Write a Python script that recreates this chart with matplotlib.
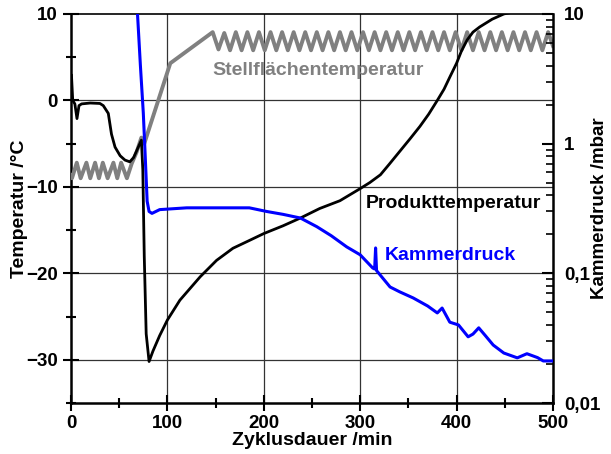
import numpy as np
import matplotlib
matplotlib.use("Agg")
import matplotlib.pyplot as plt
from matplotlib.ticker import MultipleLocator, FixedLocator, FixedFormatter, LogLocator, NullFormatter

plt.rcParams['font.family'] = ['Liberation Sans', 'DejaVu Sans']
plt.rcParams['font.weight'] = 'bold'
plt.rcParams['font.size'] = 13

# Stellflächentemperatur (grau)
shelf_t = [0, 1, 6, 10, 16, 20, 25, 29, 33, 38, 44, 48, 52, 58, 63, 68, 73, 76, 103,
           147, 153, 159, 165, 171, 177, 183, 189, 195, 201, 207, 213, 219, 225, 231,
           237, 243, 249, 255, 261, 267, 273, 279, 285, 291, 297, 303, 309, 315, 321,
           327, 333, 339, 345, 351, 357, 363, 369, 375, 381, 387, 393, 399, 405, 411,
           417, 423, 429, 435, 441, 447, 453, 459, 465, 471, 477, 483, 489, 495, 500]
shelf_T = [-8.7, -9.0, -7.2, -9.0, -7.2, -9.0, -7.2, -9.0, -7.2, -9.0, -7.2, -9.0, -7.2, -9.0,
           -7.3, -6.0, -4.3, -5.0, 4.3,
           7.9, 5.9, 7.8, 5.8, 7.9, 5.8, 7.9, 5.8, 7.9, 5.8, 7.9, 5.8, 7.9, 5.8, 7.9,
           5.8, 7.9, 5.8, 7.9, 5.8, 7.9, 5.8, 7.9, 5.8, 7.9, 5.8, 7.9, 5.8, 7.9, 5.8,
           7.9, 5.8, 7.9, 5.8, 7.9, 5.8, 7.9, 5.8, 7.9, 5.8, 7.9, 5.8, 7.9, 5.8, 7.9,
           5.8, 7.9, 5.8, 7.9, 5.8, 7.9, 5.8, 7.9, 5.8, 7.9, 5.8, 7.9, 5.8, 7.9, 6.3]

# Produkttemperatur (schwarz)
prod_t = [0.5, 1.8, 4, 6.2, 8.3, 11, 20, 30, 33.5, 38.7, 42, 45.7, 51, 56, 61, 65, 69, 73,
          74.5, 76, 78, 81, 85, 92, 100, 113, 134, 151, 168, 185, 200, 220, 238, 258,
          279, 300, 310, 321, 330, 341, 352, 362, 371, 380, 387, 393, 400, 405, 411,
          417, 424, 437, 449, 470, 500]
prod_T = [2.9, 0.0, -0.4, -2.1, -0.6, -0.4, -0.3, -0.35, -0.6, -1.5, -3.9, -5.4, -6.4, -6.9,
          -7.1, -6.6, -5.6, -4.6, -8.0, -18.0, -27.0, -30.2, -29.0, -27.2, -25.4, -23.1,
          -20.4, -18.5, -17.1, -16.2, -15.4, -14.5, -13.6, -12.5, -11.6, -10.2, -9.5,
          -8.6, -7.4, -5.9, -4.4, -3.0, -1.6, 0.0, 1.3, 2.7, 4.3, 5.7, 7.0, 7.9, 8.5,
          9.4, 10.0, 10.5, 11.0]

# Kammerdruck /mbar (blau)
press_t = [66, 69, 72, 75, 77, 79, 81, 84, 92, 120, 155, 185, 203, 220, 238, 255, 270,
           286, 300, 313, 315, 316, 317, 331, 341, 355, 370, 380, 385, 393, 402, 412,
           417, 423, 430, 438, 449, 463, 473, 484, 490, 500]
press_p = [15, 10, 4.0, 1.73, 0.8, 0.36, 0.30, 0.29, 0.31, 0.32, 0.32, 0.32, 0.30, 0.285,
           0.267, 0.229, 0.195, 0.16, 0.139, 0.11, 0.108, 0.157, 0.105, 0.0785, 0.072,
           0.0646, 0.056, 0.0495, 0.054, 0.042, 0.040, 0.0324, 0.034, 0.038, 0.033,
           0.028, 0.0243, 0.0223, 0.024, 0.0224, 0.0211, 0.0211]

x_ticks = [0, 100, 200, 300, 400, 500]
t_ticks = [-30, -20, -10, 0, 10]
p_ticks = [0.01, 0.1, 1, 10]
p_labels = ['0,01', '0,1', '1', '10']

fig = plt.figure(figsize=(6.11, 4.54), dpi=100)
ax = fig.add_axes([0.1162, 0.1123, 0.7888, 0.8569])

# Gitter
for xv in x_ticks[1:-1]:
    ax.axvline(xv, color='#333333', lw=0.9, zorder=1)
for yv in t_ticks[:-1]:
    ax.axhline(yv, color='#333333', lw=0.9, zorder=1)

ax.plot(shelf_t, shelf_T, color='#808080', lw=2.8, zorder=3)
ax.plot(prod_t, prod_T, color='black', lw=2.0, zorder=4)

ax.set_xlim(0, 500)
ax.set_ylim(-35, 10)
ax.xaxis.set_major_locator(FixedLocator(x_ticks))
ax.xaxis.set_minor_locator(MultipleLocator(50))
ax.yaxis.set_major_locator(FixedLocator(t_ticks))
ax.yaxis.set_minor_locator(MultipleLocator(5))
ax.tick_params(axis='both', which='major', direction='inout', length=11, width=1.5,
               labelsize=13.5)
ax.tick_params(axis='both', which='minor', direction='inout', length=7, width=1.5)
ax.tick_params(axis='x', pad=3)
ax.tick_params(axis='y', pad=4)
ax.xaxis.tick_bottom()
ax.yaxis.tick_left()
ax.spines['left'].set_linewidth(1.8)
ax.spines['bottom'].set_linewidth(1.8)
ax.spines['top'].set_linewidth(1.2)
ax.spines['right'].set_visible(False)

ax.set_xlabel('Zyklusdauer /min', fontweight='bold', fontsize=14, va='center')
ax.xaxis.set_label_coords(0.5, -0.097)
ax.set_ylabel('Temperatur /°C', fontweight='bold', fontsize=14, va='center')
ax.yaxis.set_label_coords(-0.106, 0.5)

ax.text(256, 3.5, 'Stellflächentemperatur', color='#808080', fontweight='bold',
        fontsize=14, ha='center', va='center')
ax.text(397, -11.9, 'Produkttemperatur', color='black', fontweight='bold',
        fontsize=14, ha='center', va='center')
ax.text(393, -17.9, 'Kammerdruck', color='#0000ff', fontweight='bold',
        fontsize=14, ha='center', va='center')

# rechte Achse: Kammerdruck
ax2 = ax.twinx()
ax2.plot(press_t, press_p, color='#0000ff', lw=2.2, zorder=5)
ax2.set_yscale('log')
ax2.set_ylim(0.01, 10)
ax2.yaxis.set_major_locator(FixedLocator(p_ticks))
ax2.yaxis.set_major_formatter(FixedFormatter(p_labels))
ax2.yaxis.set_minor_locator(LogLocator(base=10, subs=np.arange(2, 10)))
ax2.yaxis.set_minor_formatter(NullFormatter())
ax2.tick_params(axis='y', which='major', direction='in', length=8, width=1.5, pad=8,
                labelsize=13.5)
ax2.tick_params(axis='y', which='minor', direction='in', length=5, width=1.2)
for s in ['left', 'top', 'bottom']:
    ax2.spines[s].set_visible(False)
ax2.spines['right'].set_linewidth(1.8)
ax2.set_ylabel('Kammerdruck /mbar', fontweight='bold', fontsize=13.5,
               va='center', ha='center')
ax2.yaxis.set_label_coords(1.097, 0.5)

plt.savefig('out.png', dpi=100)
